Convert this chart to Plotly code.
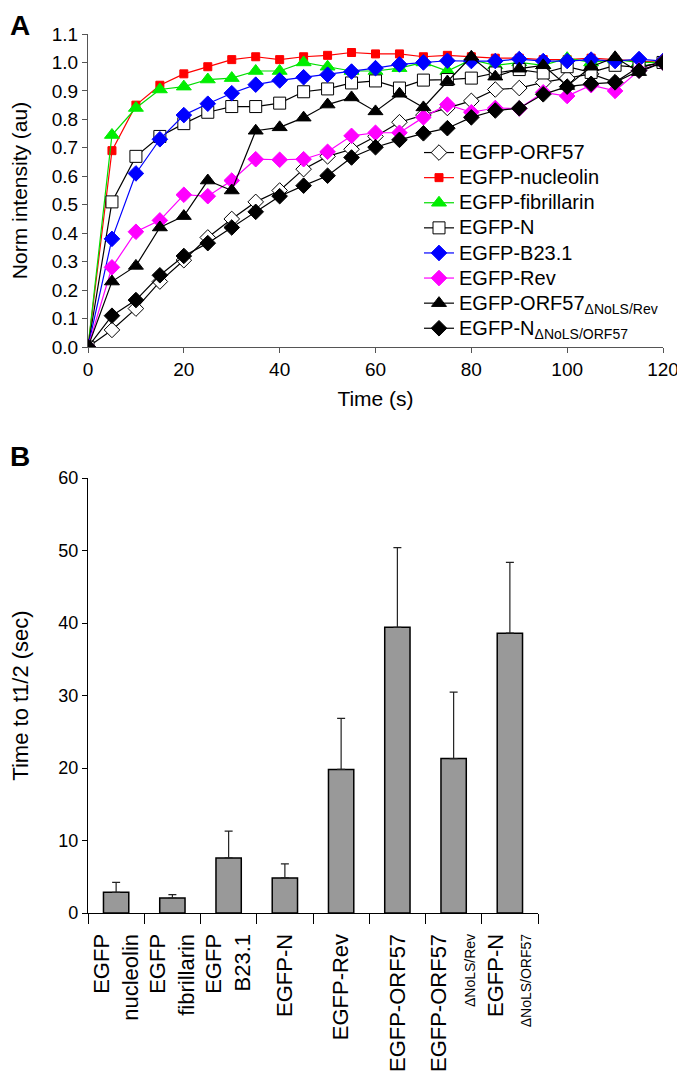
import plotly.graph_objects as go

# ---------------- Panel A data ----------------
time_s = [0, 5, 10, 15, 20, 25, 30, 35, 40, 45, 50, 55, 60,
          65, 70, 75, 80, 85, 90, 95, 100, 105, 110, 115, 120]

egfp_orf57 = [0, 0.06, 0.135, 0.23, 0.305, 0.385, 0.45, 0.51, 0.55, 0.625, 0.67, 0.695, 0.74,
              0.79, 0.815, 0.84, 0.865, 0.905, 0.91, 0.93, 0.945, 0.96, 0.93, 0.985, 1.0]
egfp_nucleolin = [0, 0.69, 0.85, 0.92, 0.96, 0.985, 1.01, 1.02, 1.01, 1.02, 1.025, 1.035, 1.03,
                  1.03, 1.02, 1.025, 1.02, 1.015, 1.015, 1.01, 1.01, 1.015, 1.01, 1.005, 1.0]
egfp_fibrillarin = [0, 0.745, 0.84, 0.905, 0.915, 0.94, 0.945, 0.97, 0.97, 1.0, 0.985, 0.97, 0.97,
                    0.98, 1.0, 0.97, 1.01, 0.99, 1.0, 0.99, 1.015, 1.0, 1.01, 1.0, 1.0]
egfp_n = [0, 0.51, 0.67, 0.74, 0.785, 0.825, 0.845, 0.845, 0.857, 0.897, 0.907, 0.928, 0.935,
          0.91, 0.938, 0.94, 0.945, 0.963, 0.975, 0.963, 0.985, 0.965, 0.99, 0.983, 1.0]
egfp_b23 = [0, 0.38, 0.61, 0.73, 0.815, 0.855, 0.892, 0.922, 0.937, 0.948, 0.957, 0.968, 0.98,
            0.993, 1.0, 1.006, 1.005, 1.005, 1.012, 1.005, 1.005, 1.01, 1.005, 1.012, 1.005]
egfp_rev = [0, 0.28, 0.405, 0.445, 0.535, 0.53, 0.585, 0.66, 0.658, 0.66, 0.686, 0.742, 0.753,
            0.753, 0.807, 0.852, 0.825, 0.84, 0.838, 0.895, 0.882, 0.92, 0.9, 0.972, 1.0]
egfp_orf57_dnols = [0, 0.23, 0.285, 0.42, 0.46, 0.585, 0.55, 0.76, 0.772, 0.806, 0.852, 0.877, 0.828,
                    0.89, 0.842, 0.933, 1.02, 0.95, 0.978, 0.99, 0.917, 0.985, 1.018, 0.966, 1.0]
egfp_n_dnols = [0, 0.11, 0.165, 0.252, 0.32, 0.365, 0.42, 0.475, 0.53, 0.567, 0.602, 0.666, 0.702,
                0.728, 0.751, 0.769, 0.807, 0.831, 0.839, 0.888, 0.915, 0.925, 0.93, 0.971, 1.0]

series_names = ["EGFP-ORF57", "EGFP-nucleolin", "EGFP-fibrillarin", "EGFP-N", "EGFP-B23.1",
                "EGFP-Rev", "EGFP-ORF57<sub>ΔNoLS/Rev</sub>", "EGFP-N<sub>ΔNoLS/ORF57</sub>"]
series_values = [egfp_orf57, egfp_nucleolin, egfp_fibrillarin, egfp_n, egfp_b23,
                 egfp_rev, egfp_orf57_dnols, egfp_n_dnols]

# ---------------- Panel B data ----------------
bar_labels = ["EGFP<br>nucleolin", "EGFP<br>fibrillarin", "EGFP<br>B23.1", "EGFP-N", "EGFP-Rev",
              "EGFP-ORF57",
              "EGFP-ORF57<br><span style='font-size:14px'>ΔNoLS/Rev</span>",
              "EGFP-N<br><span style='font-size:14px'>ΔNoLS/ORF57</span>"]
bar_values = [2.85, 2.07, 7.6, 4.84, 19.8, 39.4, 21.3, 38.6]
bar_errors = [1.38, 0.46, 3.7, 1.93, 7.05, 11.0, 9.17, 9.77]

# ---------------- styles ----------------
styles = [
    dict(symbol="diamond", size=12, fill="white", edge="black", line="black"),
    dict(symbol="square", size=8, fill="#ff0000", edge="#ff0000", line="#ff0000"),
    dict(symbol="triangle-up", size=13, fill="#00ee00", edge="#00ee00", line="#00dd00"),
    dict(symbol="square", size=12, fill="white", edge="black", line="black"),
    dict(symbol="diamond", size=12, fill="#0000ff", edge="#0000ff", line="#0000ff"),
    dict(symbol="diamond", size=12, fill="#ff00ff", edge="#ff00ff", line="#ff00ff"),
    dict(symbol="triangle-up", size=13, fill="black", edge="black", line="black"),
    dict(symbol="diamond", size=12, fill="black", edge="black", line="black"),
]

FONT = "Liberation Sans, Arial, Helvetica, sans-serif"
NARROW = "Liberation Sans Narrow, Liberation Sans, Arial, sans-serif"

fig = go.Figure()

for name, vals, st in zip(series_names, series_values, styles):
    fig.add_trace(go.Scatter(
        x=time_s, y=vals, name="<span style='font-size:20px'>" + name + "</span>",
        mode="lines+markers",
        line=dict(color=st["line"], width=1.2),
        marker=dict(symbol=st["symbol"], size=st["size"], color=st["fill"],
                    line=dict(color=st["edge"], width=1)),
        xaxis="x", yaxis="y",
    ))

fig.add_trace(go.Bar(
    x=bar_labels, y=bar_values, width=0.45, showlegend=False,
    marker=dict(color="#999999", line=dict(color="black", width=1.5)),
    error_y=dict(type="data", symmetric=False, array=bar_errors,
                 arrayminus=[0] * len(bar_errors), color="#222222", thickness=1.2, width=4),
    xaxis="x2", yaxis="y2",
))

# page body has an 8px margin: size and positions are expressed in figure pixels
W, H = 677, 1068

fig.update_layout(
    width=W, height=H,
    margin=dict(l=0, r=0, t=0, b=0),
    paper_bgcolor="white", plot_bgcolor="white",
    font=dict(family=FONT, color="black", size=18),
    showlegend=True,
    legend=dict(x=411 / W, y=1 - 127 / H, xanchor="left", yanchor="top",
                font=dict(size=17, family=FONT), bgcolor="rgba(0,0,0,0)",
                itemwidth=30, tracegroupgap=0),
    xaxis=dict(domain=[80 / W, 655 / W], anchor="y", range=[0, 120], tick0=0, dtick=20,
               showline=True, linecolor="#555555", linewidth=1.2, ticks="outside",
               ticklen=5, tickcolor="#555555", showgrid=False, zeroline=False,
               automargin=False, tickfont=dict(size=19),
               title=dict(text="Time (s)", font=dict(size=21), standoff=12)),
    yaxis=dict(domain=[1 - 339 / H, 1 - 26 / H], anchor="x", range=[0, 1.1], tick0=0, dtick=0.1,
               tickformat=".1f", showline=True, linecolor="#555555", linewidth=1.2,
               ticks="outside", ticklen=5, tickcolor="#555555", showgrid=False,
               zeroline=False, automargin=False, tickfont=dict(size=19),
               title=dict(text="Norm intensity (au)", font=dict(size=21), standoff=28)),
    xaxis2=dict(domain=[80 / W, 530 / W], anchor="y2", type="category",
                tickmode="linear", tick0=0, dtick=1, tickson="boundaries",
                showline=True, linecolor="black", linewidth=1.2, ticks="outside",
                ticklen=10, tickcolor="black", showgrid=False, zeroline=False,
                tickangle=-90, tickfont=dict(size=22), automargin=False,
                ticklabelstandoff=11),
    yaxis2=dict(domain=[1 - 905 / H, 1 - 470 / H], anchor="x2", range=[0, 60], tick0=0, dtick=10,
                showline=True, linecolor="black", linewidth=1.2, ticks="outside",
                ticklen=5, tickcolor="black", showgrid=False, zeroline=False,
                automargin=False, tickfont=dict(size=18, family=NARROW),
                title=dict(text="Time to t1/2 (sec)", font=dict(size=22), standoff=26)),
    bargap=0.55,
)

fig.add_annotation(text="<b>A</b>", x=0, y=1, xref="paper", yref="paper",
                   xanchor="left", yanchor="top", showarrow=False, font=dict(size=28))
fig.add_annotation(text="<b>B</b>", x=0, y=1 - 431 / H, xref="paper", yref="paper",
                   xanchor="left", yanchor="top", showarrow=False, font=dict(size=28))

fig.write_html("out.html")
